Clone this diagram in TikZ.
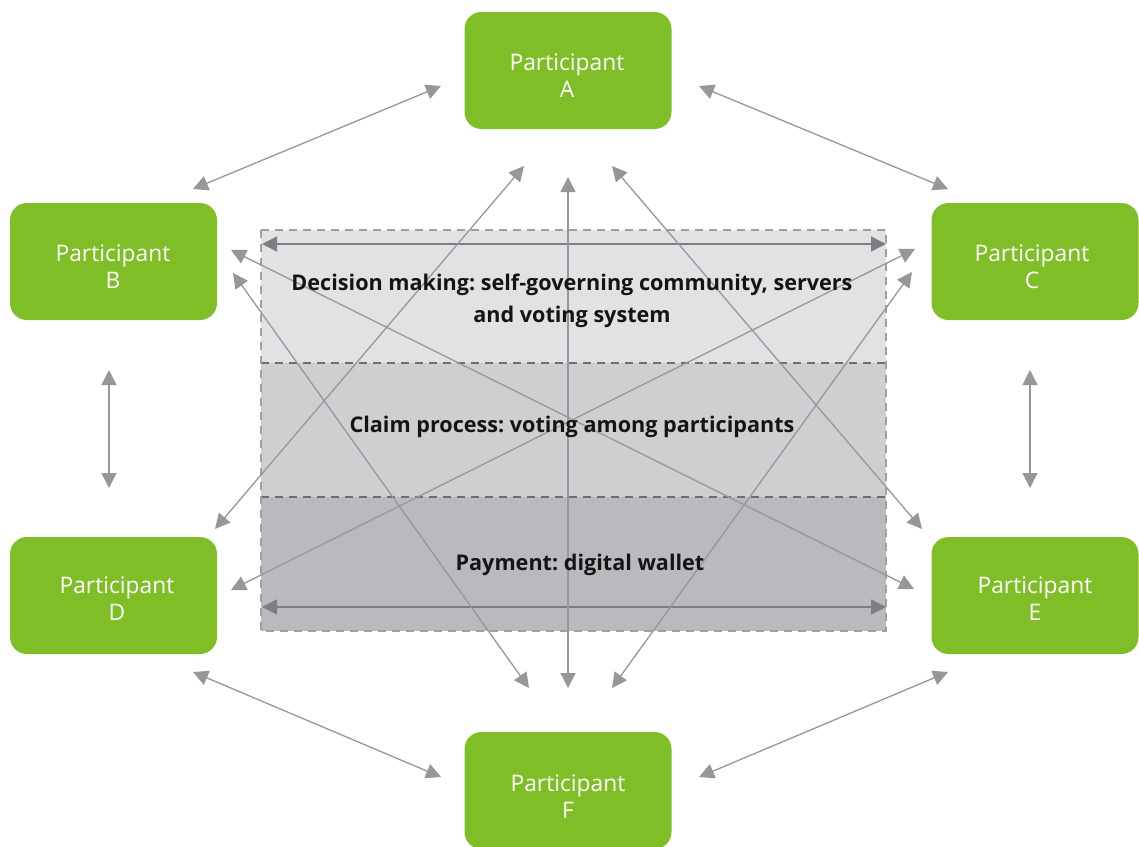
\documentclass[tikz,border=0pt]{standalone}
\usepackage{fontspec}
\setmainfont{Open Sans}
\frenchspacing
\usetikzlibrary{arrows.meta}
\definecolor{pgreen}{RGB}{128,190,40}
\definecolor{band1}{RGB}{225,226,228}
\definecolor{band2}{RGB}{206,207,209}
\definecolor{band3}{RGB}{185,186,189}
\definecolor{bordergray}{RGB}{160,160,162}
\definecolor{divgray}{RGB}{110,110,112}
\definecolor{arrgray}{RGB}{150,151,155}
\definecolor{innerarr}{RGB}{125,126,130}
\definecolor{labelblack}{RGB}{20,20,20}
\tikzset{
  pbox/.style={fill=pgreen, rounded corners=17pt, minimum width=207pt, minimum height=117pt, inner sep=0pt},
  ptext/.style={text=white, align=center, font=\fontsize{22.8}{27}\selectfont, inner sep=0pt},
  blabel/.style={text=labelblack, align=center, font=\fontsize{21.6}{32}\selectfont\bfseries, inner sep=0pt},
  conn/.style={draw=arrgray, line width=1.3pt, {Triangle[length=15pt,width=15pt]}-{Triangle[length=15pt,width=15pt]}},
  innerconn/.style={draw=innerarr, line width=1.3pt, {Triangle[length=15pt,width=15pt]}-{Triangle[length=15pt,width=15pt]}},
  outerdash/.style={draw=bordergray, line width=2.8pt, dash pattern=on 8pt off 6pt},
  divdash/.style={draw=divgray, line width=2pt, dash pattern=on 8pt off 6pt}
}
\begin{document}
\begin{tikzpicture}[x=1pt,y=-1pt]
\useasboundingbox (0,0) rectangle (1139,846);
\clip (0,0) rectangle (1139,846);
\fill[white] (0,0) rectangle (1139,846);

% bands
\fill[band1] (261,230) rectangle (886,363);
\fill[band2] (261,363) rectangle (886,497);
\fill[band3] (261,497) rectangle (886,631);
\draw[divdash] (261,363) -- (886,363);
\draw[divdash] (261,497) -- (886,497);
\draw[outerdash] (261,230) rectangle (886,631);

% participant boxes
\node[pbox] (A) at (568,70.5) {};
\node[pbox] (B) at (113.5,261.5) {};
\node[pbox] (C) at (1035,261.5) {};
\node[pbox] (D) at (113.5,595.5) {};
\node[pbox] (E) at (1035,595.5) {};
\node[pbox] (F) at (568,790.5) {};
\node[ptext] (At) at (567,76) {Participant\\A};
\node[ptext] (Bt) at (113,266.5) {Participant\\B};
\node[ptext] (Ct) at (1032,266.5) {Participant\\C};
\node[ptext] (Dt) at (117,598.5) {Participant\\D};
\node[ptext] (Et) at (1035,598.5) {Participant\\E};
\node[ptext] (Ft) at (568,796.5) {Participant\\F};

% connector end points
\coordinate (aL) at (441,86);
\coordinate (bT) at (193,189);
\coordinate (aR) at (699,86);
\coordinate (cT) at (948,189);
\coordinate (bB1) at (109,370);
\coordinate (dT1) at (109,488);
\coordinate (cB1) at (1030,370);
\coordinate (eT1) at (1030,488);
\coordinate (dB) at (193,672);
\coordinate (fL) at (441,777);
\coordinate (eB) at (948,672);
\coordinate (fR) at (699,777);
\coordinate (hTL) at (262,244);
\coordinate (hTR) at (886,244);
\coordinate (hBL) at (262,607);
\coordinate (hBR) at (886,607);
\coordinate (aC) at (568,177);
\coordinate (fC) at (568,688);
\coordinate (aDL) at (524,166);
\coordinate (dAR) at (215,529);
\coordinate (aER) at (612,166);
\coordinate (eAL) at (922,529);
\coordinate (bEL) at (231,250);
\coordinate (eBL) at (914,589);
\coordinate (bFL) at (233,273);
\coordinate (fBL) at (529,688);
\coordinate (cDR) at (915,249);
\coordinate (dCR) at (231,590);
\coordinate (cFR) at (912,272);
\coordinate (fCR) at (612,688);

% connectors
\draw[conn] (aL) -- (bT);
\draw[conn] (aR) -- (cT);
\draw[conn] (bB1) -- (dT1);
\draw[conn] (cB1) -- (eT1);
\draw[conn] (dB) -- (fL);
\draw[conn] (eB) -- (fR);
\draw[innerconn] (hTL) -- (hTR);
\draw[innerconn] (hBL) -- (hBR);
\draw[conn] (aC) -- (fC);
\draw[conn] (aDL) -- (dAR);
\draw[conn] (aER) -- (eAL);
\draw[conn] (bEL) -- (eBL);
\draw[conn] (bFL) -- (fBL);
\draw[conn] (cDR) -- (dCR);
\draw[conn] (cFR) -- (fCR);

% band labels (on top of the lines)
\node[blabel] (dec) at (572,300.5) {Decision making: self-governing community, servers\\and voting system};
\node[blabel] (claim) at (572,427) {Claim process: voting among participants};
\node[blabel] (pay) at (580,565) {Payment: digital wallet};
\end{tikzpicture}
\end{document}
